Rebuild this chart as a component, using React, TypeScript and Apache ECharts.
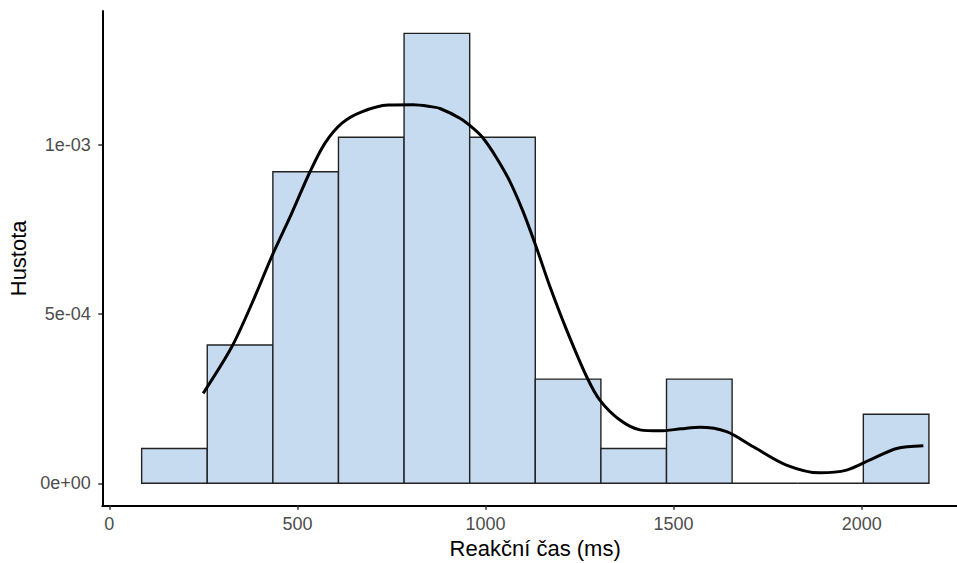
import React, { useEffect, useRef } from "react";
import * as echarts from "echarts";

// Histogram bins (ms) and density heights
const binStart = [86, 260.4, 434.8, 609.2, 783.6, 958, 1132.4, 1306.8, 1481.2, 1655.6, 1830, 2004.4];
const binEnd = [260.4, 434.8, 609.2, 783.6, 958, 1132.4, 1306.8, 1481.2, 1655.6, 1830, 2004.4, 2178.8];
const binDensity = [
  0.000103, 0.000409, 0.000921, 0.001023, 0.00133, 0.001023, 0.000308, 0.000103, 0.000308, 0, 0, 0.000204,
];

// Density curve points
const curveX = [
  249.6, 325, 378.5, 431.7, 484.8, 533.5, 573, 617.8, 671, 741.6, 808, 852, 879, 932, 967.6, 994, 1030, 1065, 1100,
  1136, 1171.5, 1215.8, 1269, 1304, 1357.5, 1410.6, 1464, 1520, 1570, 1641, 1712, 1800, 1889, 1960, 2022, 2093, 2164,
];
const curveY = [
  0.000266, 0.000402, 0.00053, 0.00067, 0.000798, 0.000921, 0.001005, 0.001064, 0.001098, 0.001118, 0.001119,
  0.001114, 0.001108, 0.001079, 0.001049, 0.00102, 0.000961, 0.000892, 0.000803, 0.000695, 0.000581, 0.000453,
  0.000315, 0.000246, 0.000187, 0.000158, 0.000155, 0.000161, 0.000166, 0.000153, 0.000108, 0.000054, 0.000031,
  0.000039, 0.000069, 0.000103, 0.000111,
];

const xTicks = [0, 500, 1000, 1500, 2000];
const yTicks = [0, 0.0005, 0.001];
const yTickLabels = ["0e+00", "5e-04", "1e-03"];

const FONT = "Liberation Sans, Arial, sans-serif";

export default function App() {
  const ref = useRef<HTMLDivElement>(null);
  useEffect(() => {
    if (!ref.current) return;
    const chart = echarts.init(ref.current, null, { renderer: "svg" });
    const histData = binStart.map((s, i) => [s, binEnd[i], binDensity[i]]);
    const curveData = curveX.map((x, i) => [x, curveY[i]]);
    chart.setOption({
      animation: false,
      backgroundColor: "#ffffff",
      grid: {
        left: 102.3,
        right: 0,
        top: 10.9,
        bottom: 57.2,
        containLabel: false,
        outerBoundsMode: "none",
      },
      xAxis: {
        type: "value",
        min: -18.6,
        max: 2253.4,
        name: "Reakční čas (ms)",
        nameLocation: "middle",
        nameGap: 32,
        nameTextStyle: { fontSize: 22, color: "#000000", fontFamily: FONT, padding: [0, 0, 0, 11] },
        axisLine: { show: true, onZero: false, lineStyle: { color: "#000000", width: 2 } },
        axisTick: { show: true, length: 4, customValues: xTicks, lineStyle: { color: "#333333", width: 1.5 } },
        axisLabel: {
          customValues: xTicks,
          margin: 9,
          fontSize: 18,
          color: "#4D4D4D",
          fontFamily: FONT,
          formatter: (v: number) => String(v),
        },
        splitLine: { show: false },
      },
      yAxis: {
        type: "value",
        min: -0.0000665,
        max: 0.0013965,
        name: "Hustota",
        nameLocation: "middle",
        nameGap: 65,
        nameTextStyle: { fontSize: 22, color: "#000000", fontFamily: FONT },
        axisLine: { show: true, onZero: false, lineStyle: { color: "#000000", width: 2 } },
        axisTick: { show: true, length: 4, customValues: yTicks, lineStyle: { color: "#333333", width: 1.5 } },
        axisLabel: {
          customValues: yTicks,
          margin: 11.5,
          fontSize: 18,
          color: "#4D4D4D",
          fontFamily: FONT,
          formatter: (v: number) => {
            const i = yTicks.findIndex((t) => Math.abs(t - v) < 1e-9);
            return i >= 0 ? yTickLabels[i] : "";
          },
        },
        splitLine: { show: false },
      },
      series: [
        {
          type: "custom",
          data: histData,
          encode: { x: [0, 1], y: 2 },
          renderItem: (params: any, api: any) => {
            const p0 = api.coord([api.value(0), api.value(2)]);
            const p1 = api.coord([api.value(1), 0]);
            return {
              type: "rect",
              shape: { x: p0[0], y: p0[1], width: p1[0] - p0[0], height: p1[1] - p0[1] },
              style: { fill: "#C6DBEF", stroke: "#222222", lineWidth: 1.4 },
            };
          },
          z: 2,
        },
        {
          type: "line",
          data: curveData,
          smooth: 0.3,
          showSymbol: false,
          symbol: "none",
          lineStyle: { color: "#000000", width: 3 },
          z: 3,
        },
      ],
    });
    return () => chart.dispose();
  }, []);
  return <div ref={ref} style={{ position: "fixed", left: 0, top: 0, width: 957, height: 563 }} />;
}
